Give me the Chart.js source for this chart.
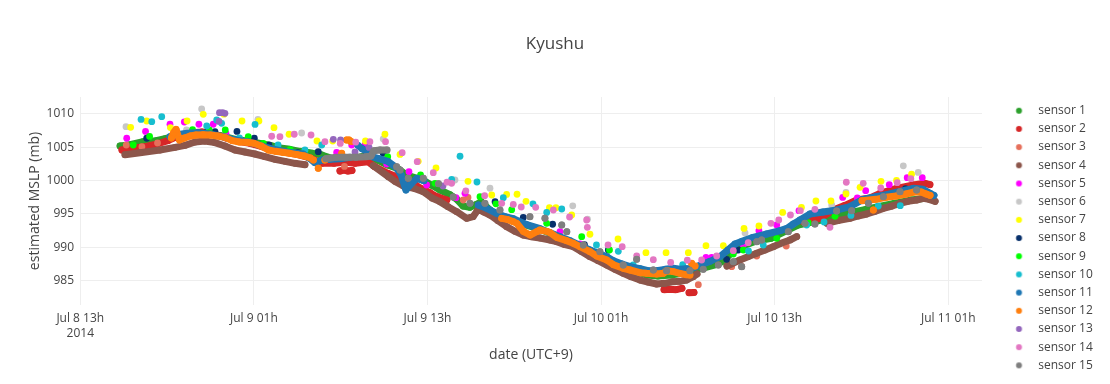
<!DOCTYPE html>
<html><head><meta charset="utf-8">
<script src="https://cdn.jsdelivr.net/npm/chart.js@4.4.1/dist/chart.umd.min.js"></script>
<style>html,body{margin:0;padding:0;background:#fff;}#wrap{width:1110px;height:384px;}</style>
</head><body><div id="wrap"><canvas id="c" width="1110" height="384"></canvas></div>
<script>
// ---------- DATA (time = hours since Jul 8 2014 00:00 UTC+9, value = MSLP mb) ----------
const chartTitle = 'Kyushu';
const xTitle = 'date (UTC+9)';
const yTitle = 'estimated MSLP (mb)';
const sensorNames = ['sensor 1','sensor 2','sensor 3','sensor 4','sensor 5','sensor 6','sensor 7','sensor 8','sensor 9','sensor 10','sensor 11','sensor 12','sensor 13','sensor 14','sensor 15'];
const xTickValues = [13, 25, 37, 49, 61, 73];
const xTickLabels = [['Jul 8 13h','2014'], 'Jul 9 01h', 'Jul 9 13h', 'Jul 10 01h', 'Jul 10 13h', 'Jul 11 01h'];
const yTickValues = [985, 990, 995, 1000, 1005, 1010];
const yTickLabels = ['985', '990', '995', '1000', '1005', '1010'];

// sensor 1 (continuous trace)
const s1LineTime = [15.75,16.44,17.34,18.24,18.86,19.41,20.24,21.14,21.97,22.8,23.7,24.6,25.43,26.12,26.8,27.49,28.18,29.07,29.69,30.38,31.28,31.97,32.86,33.55,34.24,34.93,35.56,36.67,37.3,37.86,38.55,39.03,39.45,39.93,40.35,40.7,41.32,41.8,42.7,43.74,44.78,45.81,46.85,47.88,48.92,49.96,51.0,52.15,52.93,53.85,54.54,55.23,56.05,56.95,57.5,57.97,58.79,59.6,60.75,61.69,62.61,63.77,64.69,65.59,66.53,67.31,68.14,69.25,70.45,71.37,71.8];
const s1LineMslp = [1005.2,1005.4,1005.85,1006.0,1006.3,1006.6,1006.9,1007.1,1007.0,1006.7,1006.2,1005.9,1005.6,1005.3,1004.9,1004.7,1004.4,1004.1,1003.85,1003.35,1003.3,1003.35,1003.85,1003.1,1002.35,1001.85,1000.85,1000.1,999.3,998.6,997.9,997.2,996.2,996.0,996.4,996.85,995.6,994.85,994.3,993.4,992.7,991.8,990.8,989.8,988.8,987.6,986.7,985.85,985.7,985.85,986.1,986.4,986.9,987.4,988.0,989.1,990.2,990.85,991.35,992.35,993.35,993.85,994.35,994.9,995.35,995.7,996.1,996.6,997.1,997.35,997.3];

// sensor 2 (trace pieces, null = gap)
const s2LineTime = [15.88,16.65,17.48,18.3,19.06,19.89,20.72,21.41,22.24,23.07,23.9,24.73,25.56,26.39,27.22,28.05,28.88,29.71,30.54,31.3,31.99,32.87,33.35,34.26,35.1,35.79,36.48,37.17,37.65,38.34, null, 30.95,31.23,31.5,31.78, null, 53.35,53.76,54.18,54.59, null, 55.08,55.42, null, 62.98,63.67,64.13,65.05,65.86,66.67,67.59,68.28,69.43,70.58,71.39,71.73];
const s2LineMslp = [1004.6,1004.9,1005.1,1005.5,1006.0,1006.8,1007.2,1007.3,1007.0,1006.4,1005.9,1005.6,1005.1,1004.5,1004.2,1003.9,1003.4,1002.6,1002.6,1002.8,1002.6,1002.85,1002.1,1001.1,1000.4,1000.0,998.9,998.2,997.6,997.1, null, 1001.45,1001.6,1001.45,1001.53, null, 983.65,983.7,983.65,983.85, null, 983.2,983.23, null, 993.85,994.1,994.35,995.6,996.3,997.1,997.4,998.1,998.85,999.35,999.6,999.4];

// sensor 3
const s3DotTime = [16.18,17.26,18.34,31.26,39.47,39.8,55.72,58.03,58.72,59.76,61.8];
const s3DotMslp = [1005.35,1005.1,1005.65,1002.13,997.1,997.48,984.4,987.1,987.13,988.7,990.2];

// sensor 4 (trace pieces)
const s4LineTime = [16.09,17.13,18.51,19.55,20.24,20.93,21.62,22.31,23.0,23.69,24.38,25.07,25.76,26.46,27.15,27.84,28.53, null, 33.25,34.29,34.75,35.33,36.14,36.71,37.31,37.86,38.42,39.02,39.71,40.15,40.51,40.9,41.32,41.87,42.47,43.05,43.62,44.15,44.78,45.47,45.93,46.5,47.08,47.61,48.23,48.79,49.39,49.96,50.53,51.07,51.69,52.24,52.84,53.41,53.99,54.45,54.92,55.37,55.63, null, 57.7,58.6,59.15,59.75,60.33,60.9,61.43,62.06,62.52, null, 64.61,65.37,66.2,66.76,67.36,67.93,68.51,69.11,69.66,70.21,70.81,71.27,71.67,72.09];
const s4LineMslp = [1003.9,1004.2,1004.6,1005.0,1005.3,1005.8,1005.95,1005.7,1005.2,1004.6,1004.3,1004.0,1003.6,1003.2,1002.9,1002.6,1002.4, null, 1002.25,1000.6,999.9,999.2,998.8,998.35,997.4,996.85,996.1,995.35,994.35,994.6,995.7,995.3,994.85,994.0,993.1,992.4,991.85,991.6,991.4,991.1,990.85,990.4,990.1,989.4,988.6,988.0,987.35,986.7,986.1,985.6,985.1,984.8,984.5,984.6,984.85,984.9,985.1,985.6,986.0, null, 987.2,988.1,988.6,989.1,989.6,990.1,990.6,991.1,991.6, null, 993.6,994.0,994.35,994.7,995.0,995.4,995.85,996.2,996.6,996.9,997.1,997.35,997.2,996.9];

// sensor 5
const s5DotTime = [16.21,17.51,19.2,20.19,21.2,22.19,23.07,30.72,31.76,32.68,34.18,35.72,36.94,38.97,39.59,46.16,47.54,49.5,56.25,56.64,56.99,58.83,59.91,61.14,62.68,65.7,66.71,67.29,68.92,70.16,71.2];
const s5DotMslp = [1006.36,1007.38,1008.46,1008.8,1008.46,1008.46,1007.1,1004.23,1005.35,1005.35,1002.5,1001.35,999.35,997.45,998.1,992.35,990.5,988.25,988.48,988.48,988.48,990.35,992.5,993.35,995.5,997.48,997.4,998.5,999.4,1000.45,1000.45];

// sensor 6
const s6DotTime = [16.16,20.34,21.39,25.28,28.3,33.94,38.9,41.32,47.04,48.06,58.95,64.94,65.93,69.89,70.92];
const s6DotMslp = [1008.1,1007.6,1010.75,1009.2,1007.15,1006.25,1000.1,998.86,996.23,994.21,992.15,996.35,998.23,1002.23,1001.23];

// sensor 7
const s7DotTime = [16.48,17.59,19.23,20.38,21.5,22.93,24.18,25.35,26.39,27.43,29.36,30.45,32.71,34.06,35.1,36.36,37.59,39.8,41.44,42.47,43.19,43.81,45.43,45.88,46.97,48.23,50.17,52.1,53.49,55.03,56.25,57.45,58.88,59.91,61.55,62.85,63.85,64.89,65.93,66.9,68.35,69.42,70.46];
const s7DotMslp = [1008.0,1008.95,1007.97,1008.95,1009.95,1009.97,1008.95,1008.95,1007.95,1006.96,1005.95,1005.95,1005.95,1006.96,1003.93,1002.9,1001.9,999.9,997.85,997.93,997.96,996.9,995.95,995.95,994.85,991.96,991.25,989.2,989.2,989.2,990.25,990.25,992.83,993.2,995.23,995.98,996.95,996.95,998.0,999.0,999.9,1000.03,1000.96];

// sensor 8
const s8DotTime = [17.59,21.79,22.31,23.83,25.03,26.04,28.03,29.45,32.77,33.94,41.67,43.62,45.65,47.85,49.5,57.68,58.48,70.04];
const s8DotMslp = [1006.36,1007.35,1007.35,1007.38,1006.36,1005.35,1004.2,1004.35,1004.3,1004.1,996.85,994.48,993.46,990.4,989.6,988.2,989.6,998.8];

// sensor 9
const s9DotTime = [16.66,17.79,20.76,21.91,23.02,24.61,25.65,27.5,28.53,34.25,36.52,37.52,40.63,41.73,42.82,45.24,47.66,49.58,58.14,58.83,61.14,63.32,65.17];
const s9DotMslp = [1005.35,1006.63,1007.65,1007.6,1007.6,1006.6,1005.6,1004.65,1004.5,1003.6,1000.85,999.6,997.6,996.53,995.65,993.6,991.6,989.6,989.0,989.6,991.35,993.7,994.66];

// sensor 10
const s10DotTime = [17.2,17.94,18.63,21.74,22.43,22.77,24.0,25.08,26.67,28.53,29.69,38.67,39.25,40.42,42.24,44.29,45.24,46.28,48.68,50.19,51.22,54.64,59.19,60.21,63.21,64.41,66.27,68.16,69.68];
const s10DotMslp = [1009.18,1008.85,1009.6,1008.2,1009.1,1008.6,1006.4,1008.43,1005.35,1004.6,1005.35,1000.2,1003.66,999.8,997.45,996.53,995.23,995.75,990.35,989.4,987.35,987.4,989.45,990.35,993.35,993.8,994.78,996.2,996.25];

// sensor 11 (trace pieces)
const s11LineTime = [19.2,19.68,20.38,21.14,21.97,22.8,23.7,24.6,25.28,25.97,26.8,27.63,28.39,28.81,29.22,29.71,30.26,30.95,31.64, null, 32.19,32.47,32.88,33.15,33.64,34.26,34.82,35.17,35.51,35.79,36.27,36.76, null, 40.51,41.09,41.78,42.36,42.93,43.86,44.78,45.47,46.16,46.85,47.54,48.23,48.92,49.39,49.85,50.45,51.0,51.69,52.24,52.84,53.41,53.99,54.45,54.92,55.14,55.84,56.53,57.22,57.77,58.26,58.74,59.5,60.45,61.37,61.85,62.29,62.75,63.44,64.34,65.29,66.2,67.1,68.0,68.74,69.66,70.58,71.25,71.74,72.01];
const s11LineMslp = [1006.6,1006.9,1007.1,1007.2,1007.0,1006.6,1006.1,1005.8,1005.4,1004.9,1004.5,1004.2,1004.0,1003.4,1002.7,1003.1,1003.2,1003.3,1003.5, null, 1005.3,1004.8,1004.3,1003.6,1003.3,1002.9,1002.0,1000.9,998.6,999.35,1000.35,1000.0, null, 996.35,995.85,995.1,994.6,994.3,993.4,992.8,992.2,991.6,991.0,990.3,989.6,989.0,988.6,988.0,987.5,987.1,986.8,986.5,986.5,986.7,986.85,986.7,986.8,986.75,987.3,987.9,988.6,989.6,990.5,990.9,991.5,992.0,992.5,992.85,993.5,994.1,995.0,995.3,995.6,996.1,997.2,997.6,997.9,998.4,998.85,998.7,998.1,997.8];

// sensor 12 (trace pieces + single readings)
const s12LineTime = [19.3,19.45,19.62,19.85,20.2,20.6,21.0,21.5,22.0,22.5,23.0,23.5,24.0,24.5,25.0,25.5,26.0,26.5,27.0,27.5,28.0,28.5,28.9, null, 42.13,42.5,42.93,43.17,43.62,44.09,44.55,44.78,45.24,45.47,45.93,46.62,47.08,47.54,48.23,48.7,49.39,49.85,50.53,51.0,51.69,52.15,52.84,53.3,53.55,53.99,54.45,54.86,55.14, null, 67.04,68.0,68.7,69.4,70.08,70.64,71.12,71.47,71.74];
const s12LineMslp = [1006.4,1007.2,1007.7,1006.1,1006.4,1006.7,1006.85,1006.9,1006.85,1006.7,1006.5,1006.0,1005.8,1005.75,1005.6,1005.2,1004.6,1004.4,1004.25,1004.1,1003.9,1003.7,1003.4, null, 994.35,994.2,993.85,993.6,992.4,991.85,992.35,992.6,992.4,992.2,991.5,991.0,990.6,990.1,989.35,988.7,988.1,987.4,986.85,986.6,986.2,986.1,986.0,986.1,986.5,986.35,986.1,985.9,985.85, null, 997.0,997.2,997.5,997.7,998.0,998.3,998.3,998.0,997.8];
const s12DotTime = [29.11,29.45,29.91,31.07,31.41,31.57,31.71,55.26,55.49,67.82];
const s12DotMslp = [1003.1,1001.86,1003.1,1004.1,1006.1,1006.1,1005.88,987.6,987.2,995.6];

// sensor 13
const s13DotTime = [22.62,22.84,23.0,22.59,30.49,30.99,31.99,32.96,38.07];
const s13DotMslp = [1010.2,1010.2,1010.1,1008.88,1006.2,1006.1,1004.3,1004.98,999.2];

// sensor 14
const s14DotTime = [26.23,26.8,27.79,28.95,29.91,30.97,32.04,33.02,34.1,35.25,36.29,37.4,38.35,38.67,39.65,40.95,42.13,42.93,43.48,44.48,45.7,46.82,48.0,48.05,49.48,50.46,51.46,52.61,53.81,54.96,55.95,56.99,58.14,59.17,60.74,61.28,62.09,62.77,63.78,64.82,65.95,67.12,68.33,69.47,70.41];
const s14DotMslp = [1006.66,1006.6,1006.96,1006.85,1005.85,1005.58,1005.77,1005.85,1005.85,1004.2,1002.85,1001.2,999.77,999.6,998.48,997.75,996.6,996.43,996.05,996.0,995.6,994.55,994.1,993.0,990.35,990.1,988.73,988.15,987.73,988.06,988.1,988.7,989.5,990.7,993.6,994.1,994.85,995.5,995.7,993.0,999.76,999.6,998.9,999.7,1000.3];

// sensor 15 (short trace + single readings)
const s15LineTime = [29.98,30.67,31.37,32.06,32.75,33.09,33.3,33.72,34.2];
const s15LineMslp = [1003.3,1003.5,1003.5,1003.5,1003.6,1003.7,1004.5,1004.6,1004.6];
const s15DotTime = [34.87,35.1,35.67,36.71,37.76,38.78,39.94,40.97,42.01,44.08,45.12,46.28,46.63,47.77,48.92,50.53,51.46,52.61,53.53,55.14,56.06,57.1,58.14,58.72,59.76,60.1,61.94,63.09,63.78,65.28,66.32,67.47,68.51,69.66,70.81];
const s15DotMslp = [1002.1,1001.6,1000.36,1000.36,999.55,997.55,996.6,996.6,995.6,994.6,994.36,993.35,992.35,990.35,989.35,987.35,988.2,986.6,986.5,986.5,986.7,987.35,987.85,987.1,990.85,991.1,992.35,993.6,993.5,995.45,995.5,996.6,997.6,998.35,998.6];

// ---------- STYLE ----------
const sensorColors = ['#2ca02c','#d62728','#e6705b','#8c564b','#ff00ff','#c7c7c7','#ffff00','#08306b','#00ff00','#17becf','#1f77b4','#ff7f0e','#9467bd','#e377c2','#7f7f7f'];
const FONT = "'Open Sans', sans-serif";
Chart.defaults.font.family = FONT;
Chart.defaults.color = '#444';

const lineTimes = [s1LineTime, s2LineTime, [], s4LineTime, [], [], [], [], [], [], s11LineTime, s12LineTime, [], [], s15LineTime];
const lineMslps = [s1LineMslp, s2LineMslp, [], s4LineMslp, [], [], [], [], [], [], s11LineMslp, s12LineMslp, [], [], s15LineMslp];
const dotTimes = [[], [], s3DotTime, [], s5DotTime, s6DotTime, s7DotTime, s8DotTime, s9DotTime, s10DotTime, [], s12DotTime, s13DotTime, s14DotTime, s15DotTime];
const dotMslps = [[], [], s3DotMslp, [], s5DotMslp, s6DotMslp, s7DotMslp, s8DotMslp, s9DotMslp, s10DotMslp, [], s12DotMslp, s13DotMslp, s14DotMslp, s15DotMslp];

function buildPoints(i) {
  const pts = lineTimes[i].map((t, k) => (t === null ? {x: null, y: null} : {x: t, y: lineMslps[i][k]}));
  dotTimes[i].forEach((t, k) => { pts.push({x: null, y: null}); pts.push({x: t, y: dotMslps[i][k]}); });
  return pts;
}

const datasets = sensorNames.map((name, i) => ({
  label: name,
  data: buildPoints(i),
  showLine: lineTimes[i].length > 0,
  spanGaps: false,
  borderColor: sensorColors[i],
  backgroundColor: sensorColors[i],
  borderWidth: 7,
  borderCapStyle: 'round',
  borderJoinStyle: 'round',
  tension: 0,
  pointStyle: 'circle',
  pointRadius: 3.4,
  pointHoverRadius: 3.4,
  pointBorderWidth: 0,
  pointBackgroundColor: sensorColors[i],
  pointBorderColor: sensorColors[i],
  order: sensorNames.length - i
}));

// legend marker images (circle offset left of the label box centre)
const markerImages = sensorColors.map(c => {
  const cv = document.createElement('canvas');
  cv.width = 30; cv.height = 10;
  const g = cv.getContext('2d');
  g.fillStyle = c; g.beginPath(); g.arc(7.7, 5, 3, 0, Math.PI * 2); g.fill();
  return cv;
});

const PLOT_RIGHT = 982;
const LEGEND_LEFT = 1014.1;
const LEGEND_TOP = 98.5;

new Chart(document.getElementById('c'), {
  type: 'scatter',
  data: { datasets },
  options: {
    responsive: false,
    animation: false,
    devicePixelRatio: 1,
    events: [],
    layout: { padding: 0 },
    plugins: {
      title: {
        display: true, text: chartTitle, color: '#444',
        font: { family: FONT, size: 17, weight: 'normal' },
        padding: { top: 33.8, bottom: 42.8 }
      },
      legend: {
        position: 'right', align: 'start', reverse: true,
        labels: {
          color: '#444', font: { family: FONT, size: 12 },
          usePointStyle: true, boxWidth: 12, boxHeight: 6, padding: 6.19,
          generateLabels(chart) {
            const items = Chart.defaults.plugins.legend.labels.generateLabels(chart);
            items.forEach(it => { it.pointStyle = markerImages[it.datasetIndex]; });
            return items;
          }
        }
      },
      tooltip: { enabled: false }
    },
    scales: {
      x: {
        type: 'linear', position: 'bottom', min: 12.98, max: 75.33,
        afterBuildTicks: s => { s.ticks = xTickValues.map(v => ({ value: v })); },
        ticks: {
          autoSkip: false, maxRotation: 0, minRotation: 0, padding: 5.8, color: '#444',
          font: { family: FONT, size: 12, lineHeight: 1.25 },
          callback: (v, i) => xTickLabels[i]
        },
        grid: { color: '#eeeeee', lineWidth: 1, drawTicks: false },
        border: { display: false },
        title: { display: true, text: xTitle, color: '#444', font: { family: FONT, size: 14 }, padding: { top: 0, bottom: 20.6 } },
        afterFit: s => { s.height = 79; }
      },
      y: {
        type: 'linear', position: 'left', min: 981.35, max: 1012.55,
        afterBuildTicks: s => { s.ticks = yTickValues.map(v => ({ value: v })); },
        ticks: {
          autoSkip: false, padding: 6, color: '#444', font: { family: FONT, size: 12 },
          callback: (v, i) => yTickLabels[i]
        },
        grid: { color: '#eeeeee', lineWidth: 1, drawTicks: false },
        border: { display: false },
        title: { display: true, text: yTitle, color: '#444', font: { family: FONT, size: 14 }, padding: { top: 26.6, bottom: 0 } },
        afterFit: s => { s.width = 80; }
      },
      gap: {
        axis: 'y', type: 'linear', position: 'right', display: true,
        grid: { display: false }, ticks: { display: false }, border: { display: false },
        afterFit: s => {
          const lw = s.chart.legend ? s.chart.legend.width : 0;
          s.width = Math.max(0, 1110 - PLOT_RIGHT - lw);
        }
      }
    }
  },
  plugins: [{
    id: 'legendPlace',
    afterLayout(chart) {
      const lg = chart.legend;
      if (!lg) return;
      const w = lg.width, h = lg.height;
      lg.left = LEGEND_LEFT; lg.right = LEGEND_LEFT + w;
      lg.top = LEGEND_TOP; lg.bottom = LEGEND_TOP + h;
    }
  }]
});
</script>
</body></html>
